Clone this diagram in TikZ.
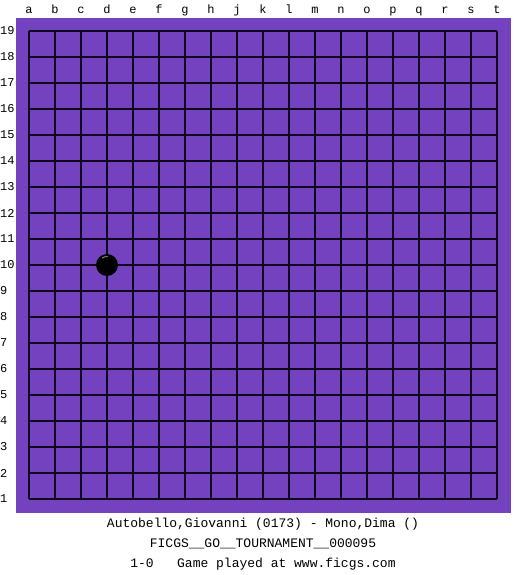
\documentclass[tikz,border=0pt]{standalone}
\usepackage{fontspec}
\setmonofont{Liberation Mono}
\definecolor{board}{RGB}{116,66,190}
\definecolor{gridline}{RGB}{14,6,28}
\tikzset{coord/.style={font=\ttfamily\fontsize{12}{14}\selectfont,inner sep=0pt},caption/.style={font=\ttfamily\fontsize{13}{15}\selectfont,inner sep=0pt},stone/.style={circle,fill=black,minimum size=22pt,inner sep=0pt}}

\begin{document}
\begin{tikzpicture}[x=1pt,y=-1pt]
\useasboundingbox (0,0) rectangle (525,575);
\fill[board] (16,18) rectangle (511,513);
\foreach \i in {0,...,18} {
  \draw[gridline,line width=1.1pt] (29+26*\i,31) -- (29+26*\i,499);
  \draw[gridline,line width=1.1pt] (29,31+26*\i) -- (497,31+26*\i);
}
\foreach \c [count=\i from 0] in {a,b,c,d,e,f,g,h,j,k,l,m,n,o,p,q,r,s,t}
  \node[coord,anchor=base] (col-\c) at (29+26*\i,14) {\c};
\foreach \r in {1,...,19}
  \node[coord,anchor=west] (row-\r) at (0,31+26*19-26*\r) {\r};
\node[stone] (d10) at (107,265) {};
\draw[gray,line width=1pt] ([shift={(235:8.5)}]d10.center) arc[start angle=235,end angle=275,radius=8.5];
\node[caption] (players) at (263,524) {Autobello,Giovanni (0173) - Mono,Dima ()};
\node[caption] (event) at (263,544) {FICGS\_\_GO\_\_TOURNAMENT\_\_000095};
\node[caption] (result) at (263,564) {1-0~~~Game played at www.ficgs.com};
\end{tikzpicture}
\end{document}
